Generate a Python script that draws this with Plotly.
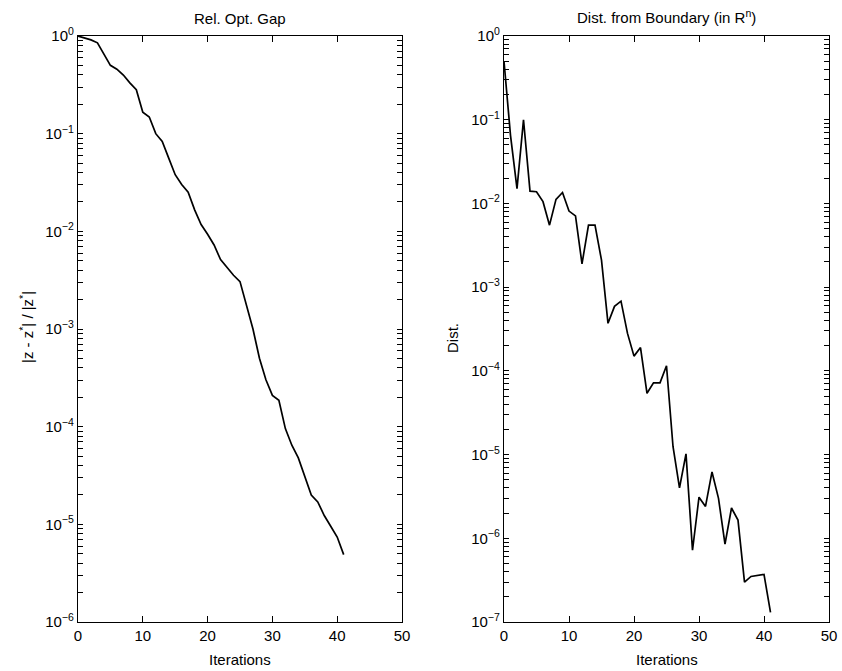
import plotly.graph_objects as go

iters_gap = list(range(0, 42))
log_gap = [0.0, -0.02, -0.04, -0.07, -0.18, -0.30, -0.34, -0.40, -0.48, -0.55,
           -0.78, -0.83, -1.00, -1.08, -1.25, -1.42, -1.52, -1.60, -1.78, -1.93,
           -2.03, -2.14, -2.29, -2.37, -2.45, -2.515, -2.77, -3.00, -3.30, -3.52,
           -3.68, -3.73, -4.02, -4.19, -4.32, -4.52, -4.70, -4.77, -4.91, -5.02,
           -5.13, -5.31]
rel_gap = [10 ** v for v in log_gap]

iters_dist = list(range(0, 42))
dist = [0.5, 0.065, 0.015, 0.10, 0.014, 0.0138, 0.0105, 0.0055, 0.0112, 0.0135,
        0.0081, 0.0071, 0.0019, 0.0055, 0.0055, 0.0021, 0.00037, 0.00059, 0.00068, 0.00028,
        0.00015, 0.00019, 5.4e-5, 7.2e-5, 7.2e-5, 1.15e-4, 1.25e-5, 4.0e-6, 1.02e-5, 7.2e-7,
        3.1e-6, 2.4e-6, 6.2e-6, 3.0e-6, 8.5e-7, 2.3e-6, 1.65e-6, 3.0e-7, 3.5e-7, 3.6e-7,
        3.7e-7, 1.3e-7]

x_ticks = [0, 10, 20, 30, 40, 50]
gap_exps = [0, -1, -2, -3, -4, -5, -6]
dist_exps = [0, -1, -2, -3, -4, -5, -6, -7]
tick_mult = [1, 2, 3, 4, 5, 6, 7, 8, 9]

FONT = "Liberation Sans, Arial, sans-serif"
W, H = 842, 671

fig = go.Figure()
fig.add_trace(go.Scatter(x=iters_gap, y=rel_gap, mode="lines",
                         line=dict(color="black", width=1.7), xaxis="x", yaxis="y",
                         showlegend=False))
fig.add_trace(go.Scatter(x=iters_dist, y=dist, mode="lines",
                         line=dict(color="black", width=1.7), xaxis="x2", yaxis="y2",
                         showlegend=False))

ytop, ybot = 36, 622
ydom = [(H - ybot) / H, (H - ytop) / H]
x1dom = [78 / W, 402 / W]
x2dom = [504 / W, 829 / W]

tfont = dict(family=FONT, size=15, color="black")
common_x = dict(range=[0, 50], tickvals=x_ticks, ticks="inside", ticklen=6,
                showline=True, linecolor="black", linewidth=1.3, mirror="ticks",
                tickcolor="black", tickwidth=1.2, showgrid=False, zeroline=False,
                automargin=False, tickfont=tfont)


def yaxis_cfg(exps, dom, anchor):
    lo = min(exps)
    vals, texts = [], []
    for e in range(lo, 1):
        for m in tick_mult:
            if e == 0 and m > 1:
                continue
            vals.append(m * 10.0 ** e)
            texts.append(f"10<sup>{'−' if e < 0 else ''}{abs(e)}</sup>" if m == 1 else "")
    return dict(type="log", domain=dom, anchor=anchor, range=[lo, 0],
                tickmode="array", tickvals=vals, ticktext=texts,
                ticks="inside", ticklen=5, showline=True, linecolor="black",
                linewidth=1.3, mirror="ticks", tickcolor="black", tickwidth=1.1,
                showgrid=False, zeroline=False, automargin=False, tickfont=tfont)


fig.update_layout(
    width=W, height=H, margin=dict(l=0, r=0, t=0, b=0),
    paper_bgcolor="white", plot_bgcolor="white",
    xaxis=dict(domain=x1dom, anchor="y", **common_x),
    yaxis=yaxis_cfg(gap_exps, ydom, "x"),
    xaxis2=dict(domain=x2dom, anchor="y2", **common_x),
    yaxis2=yaxis_cfg(dist_exps, ydom, "x2"),
)

ann_font = dict(family=FONT, size=15, color="black")
anns = [
    dict(text="Rel. Opt. Gap", x=(x1dom[0] + x1dom[1]) / 2, y=1 - 18 / H),
    dict(text="Dist. from Boundary (in R<sup>n</sup>)", x=(x2dom[0] + x2dom[1]) / 2, y=1 - 17 / H),
    dict(text="Iterations", x=(x1dom[0] + x1dom[1]) / 2, y=1 - 659 / H),
    dict(text="Iterations", x=(x2dom[0] + x2dom[1]) / 2, y=1 - 659 / H),
]
for a in anns:
    fig.add_annotation(xref="paper", yref="paper", showarrow=False, font=ann_font,
                       xanchor="center", yanchor="middle", **a)
fig.add_annotation(xref="paper", yref="paper", showarrow=False, font=ann_font,
                   text="|z - z<sup>*</sup>| / |z<sup>*</sup>|", textangle=-90,
                   x=26 / W, y=1 - 327 / H, xanchor="center", yanchor="middle")
fig.add_annotation(xref="paper", yref="paper", showarrow=False, font=ann_font,
                   text="Dist.", textangle=-90,
                   x=452 / W, y=1 - 338 / H, xanchor="center", yanchor="middle")

fig.write_html("out.html")
